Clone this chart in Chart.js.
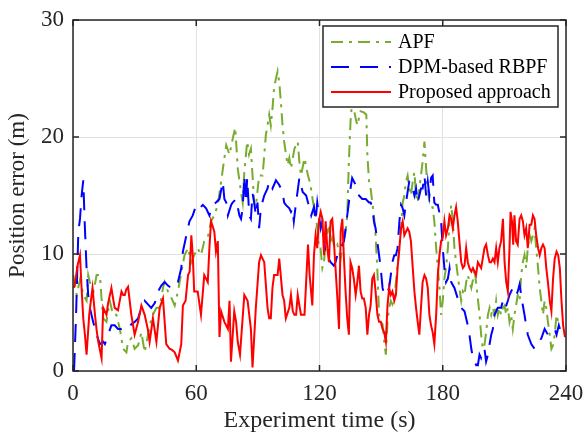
<!DOCTYPE html>
<html>
<head>
<meta charset="utf-8">
<script src="https://cdn.jsdelivr.net/npm/chart.js@4.4.1/dist/chart.umd.min.js"></script>
<style>
  html, body { margin: 0; padding: 0; background: #fff; }
  #wrap { width: 584px; height: 435px; }
</style>
</head>
<body>
<div id="wrap"><canvas id="myChart" width="584" height="435"></canvas></div>
<script>
// [time (s), position error (m)]
const apfPoints = [
  [0.2, 8.2], [1.8, 6.5], [3.4, 7.8], [5, 6.5], [6.6, 6.0], [7.4, 8.2], [8.2, 7.6], [10, 6.8], [11.5, 8.2],
  [13.1, 8.2], [13.9, 6.2], [14.7, 4.5], [16.3, 4.2], [17.9, 6.0], [19.5, 4.8], [21.1, 4.8], [22.8, 3.6],
  [24.4, 1.9], [26, 1.6], [26.8, 2.5], [28.4, 2.8], [30, 1.9], [31.7, 2.2], [33.3, 3.3], [34.9, 1.6],
  [36.5, 3.1], [37.3, 3.9], [38.9, 4.8], [40.6, 5.4], [42.2, 5.4], [43.8, 7.1], [44.6, 7.6], [46.2, 6.8],
  [48, 6.2], [49.5, 5.6], [51.1, 6.8], [52.7, 8.4], [54.3, 9.9], [56, 10.5], [57.6, 9.3], [59, 9.9],
  [60.7, 10.5], [62.3, 9.9], [63.9, 11.1], [65.6, 11.4], [67.2, 12.8], [68.8, 13.3], [70.5, 14.2],
  [72.1, 16.2], [73.7, 18.2], [74.6, 19.3], [76.2, 18.5], [77.8, 19.9], [79, 20.8], [80.2, 17.3],
  [81.8, 15.3], [82.6, 14.4], [83.4, 17.0], [84.8, 19.6], [85.7, 18.5], [86.6, 19.0], [87.4, 16.7],
  [88.2, 14.4], [89, 14.0], [90.6, 16.7], [92.3, 16.7], [93.9, 20.2], [94.7, 21.0], [95.5, 21.9],
  [96.3, 21.0], [97.1, 22.4], [97.9, 24.2], [98.8, 25.0], [99.6, 25.6], [100.4, 24.7], [101.2, 23.0],
  [102, 21.0], [102.8, 19.6], [103.7, 18.5], [104.5, 17.6], [105.3, 18.2], [106.1, 17.3], [107.8, 19.0],
  [109.4, 19.6], [110.2, 17.9], [111, 16.7], [112.7, 18.2], [114.4, 16.7], [115.5, 16.0], [116.8, 14.5],
  [118.1, 13.3], [118.9, 12.2], [119.7, 10.5], [120.5, 10.5], [121.4, 8.8], [122.2, 9.3], [123, 11.1],
  [123.8, 12.0], [124.6, 12.2], [125.4, 10.8], [126.2, 11.4], [127, 10.8], [127.8, 10.5], [128.7, 10.8],
  [129.5, 10.2], [130.3, 9.6], [131.1, 10.5], [131.9, 11.1], [132.7, 11.9], [133.5, 13.3], [134.3, 17.9],
  [135.1, 21.3], [135.6, 22.4], [136.7, 22.4], [137.6, 21.6], [138.4, 21.0], [139.2, 21.6], [140, 22.2],
  [141.6, 22.1], [142.8, 21.9], [143.3, 18.5], [144.1, 16.2], [144.9, 15.6], [145.7, 14.4], [146.5, 13.3],
  [147.3, 11.6], [148.2, 8.5], [149, 4.8], [149.8, 4.2], [150.7, 4.0], [151.5, 2.5], [152.3, 1.4],
  [153.1, 4.2], [153.9, 5.4], [154.7, 6.0], [155.5, 5.7], [156.4, 6.2], [157.2, 7.6], [158, 9.0],
  [158.9, 10.5], [159.7, 12.2], [160.5, 14.4], [161.3, 15.0], [162.1, 16.2], [162.9, 16.7], [163.7, 15.6],
  [164.5, 15.0], [165.4, 16.2], [166.2, 17.0], [167, 15.0], [167.8, 14.4], [168.6, 15.6], [169.4, 16.7],
  [170.2, 17.9], [171.1, 19.6], [171.9, 17.3], [172.7, 15.6], [173.5, 14.4], [174.3, 14.0], [175.1, 14.0],
  [175.9, 12.8], [176.8, 10.5], [177.6, 8.8], [178.4, 7.1], [179.2, 4.8], [180, 6.0], [180.8, 7.9],
  [181.6, 8.8], [182.5, 10.5], [183.3, 12.8], [184.1, 14.2], [184.9, 12.8], [185.7, 10.5], [186.5, 9.3],
  [187.3, 8.2], [188.1, 7.1], [189, 6.0], [189.8, 6.8], [190.6, 6.5], [191.4, 7.6], [192.2, 8.2],
  [193, 7.6], [193.9, 7.1], [194.7, 7.8], [195.4, 8.8], [196.2, 7.6], [197.1, 6.2], [197.9, 4.8],
  [198.7, 3.1], [199.5, 1.9], [200.3, 2.2], [201.1, 3.3], [202, 4.8], [202.8, 5.4], [203.6, 4.8],
  [204.4, 5.4], [205.2, 4.8], [206, 6.0], [206.8, 4.8], [207.6, 5.4], [208.4, 4.8], [209.3, 5.4],
  [210.1, 5.6], [210.9, 4.8], [211.7, 5.4], [212.5, 4.2], [213.3, 4.8], [214.1, 3.6], [214.9, 4.8],
  [215.7, 5.6], [216.5, 6.5], [217.4, 6.0], [218.2, 8.2], [219, 9.3], [219.8, 9.9], [220.6, 8.8],
  [221.4, 10.5], [222.3, 11.6], [223.1, 11.1], [223.9, 11.6], [224.7, 12.2], [225.5, 10.5], [226.4, 8.8],
  [227.2, 7.1], [228, 6.0], [228.8, 4.8], [229.6, 6.0], [230.4, 5.4], [231.2, 4.2], [232.1, 3.1],
  [232.9, 1.9], [233.7, 2.2], [234.5, 3.1], [235.4, 4.8], [236.2, 4.2], [237, 3.6]
];

const dpmPoints = [
  [0.5, 0], [1.5, 4.8], [2.6, 11.9], [3.4, 13.0], [4.2, 15.0], [5, 16.3], [5.8, 12.2], [6.6, 8.8],
  [7.4, 6.5], [8.2, 5.4], [9.8, 4.2], [11.5, 3.1], [13.1, 2.3], [14.7, 2.5], [15.5, 2.3], [17.1, 3.1],
  [18.7, 3.9], [20.3, 3.9], [21.9, 3.6], [23.6, 3.6], [25.2, 3.7], [26.8, 3.6], [28.4, 4.0], [30, 4.2],
  [31.7, 4.5], [33.3, 5.4], [34.9, 6.0], [36.5, 5.7], [38.1, 5.4], [39.8, 5.8], [41.4, 6.8], [43, 7.3],
  [44.6, 7.6], [46.2, 7.3], [47.8, 7.1], [49.5, 7.1], [51.1, 7.6], [52.7, 8.8], [53.5, 10.2], [55.2, 11.6],
  [56.7, 12.8], [58.3, 13.3], [60, 14.2], [61.6, 13.9], [63.2, 14.2], [64.8, 13.9], [66.4, 13.3],
  [68, 14.2], [69.6, 14.4], [71.3, 14.7], [72.9, 16.2], [73.7, 14.7], [74.6, 14.4], [75.4, 13.3],
  [77, 14.2], [77.7, 14.4], [79.4, 14.7], [81, 13.3], [81.8, 13.0], [82.6, 13.9], [83.4, 16.7],
  [84.2, 14.4], [84.8, 16.5], [85.8, 13.3], [86.6, 13.0], [87.4, 15.2], [88.2, 14.4], [89, 13.3],
  [89.8, 14.4], [90.6, 12.2], [91.5, 14.0], [93.1, 15.0], [94.7, 15.6], [95.5, 16.2], [97.1, 15.6],
  [98.8, 16.3], [100.4, 15.9], [102, 15.3], [102.8, 14.4], [103.6, 14.2], [105.3, 13.9], [106.1, 13.6],
  [106.9, 13.9], [107.5, 12.8], [108.6, 14.4], [110.2, 16.5], [111.8, 15.3], [113.5, 15.0], [114.4, 14.4],
  [115.2, 14.0], [116, 13.3], [117.3, 14.0], [118.1, 12.8], [118.9, 14.4], [119.7, 13.3], [120.6, 12.2],
  [121.4, 12.8], [123, 9.9], [123.8, 9.9], [124.6, 9.6], [125.4, 9.3], [127, 9.0], [127.8, 9.3],
  [128.7, 9.9], [130.3, 10.5], [131.9, 11.1], [132.7, 12.2], [133.5, 13.3], [134.3, 14.4], [135.1, 15.6],
  [135.9, 16.5], [137.6, 15.9], [139.2, 15.0], [140.8, 14.7], [142.5, 14.7], [144.1, 14.4], [144.9, 14.4],
  [145.7, 14.0], [146.5, 12.8], [147.3, 12.2], [149, 9.9], [149.8, 8.8], [150.7, 7.1], [151.5, 6.5],
  [152.3, 6.5], [153.1, 6.8], [153.9, 7.1], [154.7, 8.2], [155.5, 9.3], [156.4, 9.9], [157.2, 9.9],
  [158, 10.5], [158.9, 12.8], [159.7, 14.2], [160.5, 13.9], [161.3, 13.3], [162.1, 14.4], [162.9, 15.3],
  [163.7, 16.2], [164.5, 16.2], [165.4, 15.6], [166.2, 15.0], [167, 15.6], [167.8, 14.4], [168.6, 15.0],
  [169.4, 15.6], [170.2, 15.6], [171.1, 16.7], [171.9, 15.0], [172.7, 16.2], [173.5, 15.0], [174.3, 16.5],
  [175.1, 16.7], [175.9, 14.4], [176.8, 14.2], [177.6, 14.2], [179.2, 12.8], [180, 10.5], [180.8, 8.8],
  [181.6, 7.6], [182.5, 7.9], [183.3, 8.8], [184.1, 7.6], [185.7, 7.1], [187.3, 6.2], [189, 5.4],
  [190.6, 5.1], [192.2, 3.9], [193, 3.1], [193.9, 1.9], [194.7, 1.1], [196.3, 0.5], [197.1, 0.5],
  [197.9, 1.4], [198.7, 1.1], [200.3, 1.9], [201.1, 0.8], [202, 1.4], [202.8, 2.3], [203.6, 3.1],
  [204.4, 3.6], [205.2, 4.8], [206, 5.1], [206.8, 5.4], [208.4, 5.4], [209.3, 6.0], [210.1, 5.4],
  [210.9, 5.6], [211.7, 6.0], [212.5, 6.5], [214.1, 7.1], [215.7, 6.5], [216.5, 6.8], [217.4, 7.4],
  [218.2, 6.5], [219, 5.6], [219.8, 4.8], [220.6, 3.9], [221.4, 3.1], [223.1, 2.3], [224.7, 1.9],
  [226.4, 2.3], [227.2, 2.6], [228, 2.8], [229.6, 3.6], [231.2, 3.1], [232.9, 3.3], [234.5, 3.6],
  [235.4, 3.1], [236.5, 3.9], [237.5, 3.2]
];

const proposedPoints = [
  [0.5, 7.1], [1.4, 8.0], [2.2, 9.0], [3.4, 9.9], [4.2, 7.0], [5, 4.5], [5.8, 3.1], [6.6, 1.4], [7.9, 4.8],
  [8.7, 6.0], [9.5, 7.1], [10.7, 4.8], [11.5, 3.5], [12.3, 2.5], [13.9, 1.1], [14.7, 5.4], [16.3, 4.8],
  [17.1, 5.8], [18.7, 7.1], [19.5, 6.2], [20.3, 5.4], [21.9, 5.2], [23.6, 6.8], [24.4, 6.5], [25.2, 6.5],
  [26, 7.0], [26.8, 7.2], [28.4, 4.8], [30, 3.1], [31.7, 4.2], [33.3, 5.6], [34.9, 4.8], [36.5, 3.5],
  [37.3, 2.5], [38.9, 4.5], [40.6, 2.5], [42.2, 5.4], [43.8, 6.2], [45.4, 2.3], [47, 1.9], [48.2, 1.8],
  [49.5, 1.6], [51.1, 0.9], [52.7, 2.3], [53.5, 5.6], [54.8, 6.0], [56, 8.2], [56.8, 8.5], [57.6, 11.6],
  [58.3, 9.9], [59, 6.8], [60.7, 6.8], [62.3, 4.8], [63.9, 8.2], [65.6, 7.6], [66.4, 10.5], [67.2, 12.8],
  [68.8, 11.9], [69.6, 10.2], [70.5, 11.1], [71.3, 2.9], [72.1, 5.1], [73.7, 4.2], [75.4, 3.6], [76.2, 6.0],
  [76.9, 0.8], [78.5, 5.1], [79.4, 4.2], [80.2, 2.5], [81.3, 1.4], [83.4, 6.5], [85, 6.0], [86.6, 3.6],
  [87.4, 0.3], [89, 5.4], [90.6, 9.3], [91.5, 9.9], [93.1, 9.3], [94.7, 5.4], [95.5, 4.5], [96.3, 4.5],
  [97.1, 7.1], [97.9, 8.2], [99.6, 8.2], [100.4, 9.6], [102, 6.5], [102.8, 6.0], [103.6, 4.5], [105.3, 5.4],
  [106.1, 6.5], [107, 5.1], [107.8, 4.8], [108.6, 4.8], [109.4, 6.5], [110.2, 5.6], [111, 4.8],
  [112.7, 4.8], [114.4, 10.8], [115.2, 8.2], [116.5, 5.6], [117.3, 9.9], [118.1, 11.6], [118.9, 10.5],
  [119.7, 12.8], [120.6, 13.6], [121.4, 13.0], [122.2, 9.9], [123, 12.8], [123.8, 10.5], [124.6, 9.3],
  [125.4, 12.8], [126.2, 13.0], [127, 11.1], [127.8, 8.8], [128.7, 6.2], [129.5, 3.6], [130.3, 11.9],
  [131.1, 13.0], [131.9, 9.6], [132.7, 6.8], [133.5, 4.5], [134.3, 3.1], [135.1, 9.3], [135.9, 8.8],
  [136.7, 7.9], [137.6, 6.5], [138.4, 7.6], [139.2, 9.0], [140, 6.8], [140.8, 6.2], [141.6, 6.2],
  [142.5, 5.4], [143.3, 3.1], [144.1, 4.8], [144.9, 5.6], [145.7, 7.9], [146.5, 8.2], [147.3, 6.8],
  [148.2, 4.8], [149, 4.2], [149.8, 4.2], [150.7, 3.6], [151.5, 3.3], [152.3, 2.5], [153.1, 5.6],
  [153.9, 7.1], [154.7, 6.5], [155.5, 6.8], [156.4, 6.0], [157.2, 6.5], [158, 8.8], [158.9, 10.5],
  [159.7, 12.2], [160.5, 12.8], [161.3, 11.6], [162.1, 11.9], [162.9, 12.2], [163.7, 11.9], [164.5, 11.1],
  [165.4, 8.8], [166.2, 6.8], [167, 5.4], [167.8, 4.2], [168.6, 3.1], [169.4, 5.4], [170.2, 7.6],
  [171.1, 8.2], [171.9, 7.9], [172.7, 7.1], [173.5, 4.8], [174.3, 3.9], [175.1, 3.3], [175.9, 2.3],
  [176.8, 4.8], [177.6, 8.2], [178.4, 9.9], [179.2, 11.1], [180, 11.4], [180.8, 12.8], [181.6, 11.6],
  [182.5, 12.2], [183.3, 13.3], [184.1, 13.0], [184.9, 12.2], [185.7, 13.3], [186.5, 14.0], [187.3, 12.8],
  [188.1, 11.1], [189, 9.3], [189.8, 8.8], [190.6, 9.0], [191.4, 10.5], [192.2, 9.3], [193, 8.8],
  [193.9, 8.5], [194.7, 8.8], [195.5, 8.5], [196.2, 8.2], [197.1, 9.3], [198.7, 8.8], [200.3, 10.5],
  [201.1, 10.8], [202, 9.9], [202.8, 9.3], [203.6, 9.3], [204.4, 9.6], [205.2, 9.3], [206, 10.5],
  [206.8, 9.3], [207.6, 10.5], [208.4, 11.1], [209.3, 13.0], [210.1, 9.3], [210.9, 7.6], [211.7, 6.8],
  [212.5, 10.5], [213, 13.6], [213.7, 12.8], [214.3, 10.8], [214.9, 13.3], [215.7, 11.1], [216.5, 10.8],
  [217.4, 13.0], [218.2, 13.3], [219, 12.8], [219.8, 11.6], [220.6, 12.2], [221.4, 10.5], [222.3, 12.5],
  [223.1, 12.5], [223.9, 13.3], [224.7, 13.0], [225.5, 11.6], [226.4, 10.5], [227.2, 9.9], [228, 10.5],
  [228.8, 10.8], [229.6, 10.5], [230.4, 8.8], [231.2, 7.6], [232.1, 6.0], [232.9, 5.1], [233.7, 7.9],
  [234.5, 9.6], [235.4, 10.2], [236.2, 9.9], [237, 8.8], [237.8, 6.0], [238.6, 3.9], [239.5, 2.9]
];

const seriesNames = ["APF", "DPM-based RBPF", "Proposed approach"];
const seriesColors = ["#77AC30", "#0000FF", "#FF0000"];
const xTicks = [0, 60, 120, 180, 240];
const yTicks = [0, 10, 20, 30];

const serif = "'Liberation Serif', 'Times New Roman', serif";
const toXY = (pts) => pts.map((p) => ({ x: p[0], y: p[1] }));

// black box round the plot with inward ticks, like the matlab axes
const frameBox = {
  id: "frameBox",
  afterDatasetsDraw(chart) {
    const { ctx, chartArea: a, scales } = chart;
    ctx.save();
    ctx.strokeStyle = "#262626";
    ctx.lineWidth = 1.5;
    ctx.strokeRect(a.left, a.top, a.right - a.left, a.bottom - a.top);
    ctx.beginPath();
    xTicks.forEach((t) => {
      const px = scales.x.getPixelForValue(t);
      ctx.moveTo(px, a.bottom); ctx.lineTo(px, a.bottom - 6);
      ctx.moveTo(px, a.top); ctx.lineTo(px, a.top + 6);
    });
    yTicks.forEach((t) => {
      const py = scales.y.getPixelForValue(t);
      ctx.moveTo(a.left, py); ctx.lineTo(a.left + 6, py);
      ctx.moveTo(a.right, py); ctx.lineTo(a.right - 6, py);
    });
    ctx.stroke();
    ctx.restore();
  },
};

// legend box in the top right corner
const boxLegend = {
  id: "boxLegend",
  afterDraw(chart) {
    const { ctx, chartArea: a } = chart;
    const x0 = 323, y0 = 26, w = a.right - 8 - x0, h = 81;
    ctx.save();
    ctx.fillStyle = "#fff";
    ctx.fillRect(x0, y0, w, h);
    ctx.strokeStyle = "#262626";
    ctx.lineWidth = 1.5;
    ctx.strokeRect(x0, y0, w, h);
    ctx.font = "20px " + serif;
    ctx.textBaseline = "middle";
    ctx.fillStyle = "#000";
    seriesNames.forEach((name, i) => {
      const ds = chart.data.datasets[i];
      const y = y0 + 16 + i * 25;
      ctx.beginPath();
      ctx.setLineDash(ds.borderDash || []);
      ctx.strokeStyle = ds.borderColor;
      ctx.lineWidth = ds.borderWidth;
      ctx.moveTo(x0 + 8, y);
      ctx.lineTo(x0 + 68, y);
      ctx.stroke();
      ctx.setLineDash([]);
      ctx.fillText(name, x0 + 75, y + 1);
    });
    ctx.restore();
  },
};

new Chart(document.getElementById("myChart"), {
  type: "line",
  data: {
    datasets: [
      {
        label: seriesNames[0],
        data: toXY(apfPoints),
        borderColor: seriesColors[0],
        borderWidth: 2,
        borderDash: [12, 6, 3, 6],
        order: 3,
      },
      {
        label: seriesNames[1],
        data: toXY(dpmPoints),
        borderColor: seriesColors[1],
        borderWidth: 2,
        borderDash: [18, 11],
        order: 2,
      },
      {
        label: seriesNames[2],
        data: toXY(proposedPoints),
        borderColor: seriesColors[2],
        borderWidth: 2,
        order: 1,
      },
    ],
  },
  options: {
    responsive: false,
    animation: false,
    events: [],
    elements: { point: { radius: 0 }, line: { tension: 0, fill: false } },
    layout: { padding: { top: 20, right: 18, left: 0, bottom: 0 } },
    plugins: { legend: { display: false }, tooltip: { enabled: false } },
    scales: {
      x: {
        type: "linear",
        min: 0,
        max: 240,
        afterBuildTicks: (s) => { s.ticks = xTicks.map((v) => ({ value: v })); },
        afterFit: (s) => { s.height = 64; s.paddingLeft = 0; s.paddingRight = 0; },
        grid: { color: "#e2e2e2", lineWidth: 1, drawTicks: false },
        border: { display: false },
        ticks: { color: "#262626", font: { family: serif, size: 23 }, padding: 9, maxRotation: 0 },
        title: { display: true, text: "Experiment time (s)", color: "#262626", font: { family: serif, size: 24 }, padding: { top: 0, bottom: 0 } },
      },
      y: {
        type: "linear",
        min: 0,
        max: 30,
        afterBuildTicks: (s) => { s.ticks = yTicks.map((v) => ({ value: v })); },
        afterFit: (s) => { s.width = 73; s.paddingTop = 0; s.paddingBottom = 0; },
        grid: { color: "#e2e2e2", lineWidth: 1, drawTicks: false },
        border: { display: false },
        ticks: { color: "#262626", font: { family: serif, size: 23 }, padding: 9 },
        title: { display: true, text: "Position error (m)", color: "#262626", font: { family: serif, size: 23 }, padding: { top: 4, bottom: 0 } },
      },
    },
  },
  plugins: [frameBox, boxLegend],
});
</script>
</body>
</html>
